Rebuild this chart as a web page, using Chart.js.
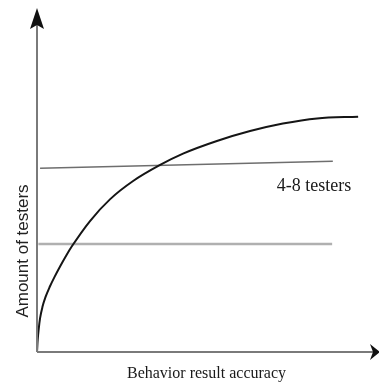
<!DOCTYPE html>
<html>
<head>
<meta charset="utf-8">
<script src="https://cdn.jsdelivr.net/npm/chart.js@4"></script>
<style>
html,body{margin:0;padding:0;background:#fff;}
#wrap{width:379px;height:385px;}
</style>
</head>
<body>
<div id="wrap"><canvas id="c" width="379" height="385"></canvas></div>
<script>
// Values (arbitrary 0-100 units on both axes)
const curveX = [0, 0.2, 0.5, 0.9, 1.6, 2.5, 3.7, 5.1, 6.9, 8.6, 10.2, 15.5, 21.4, 28.1, 36.0, 42.7, 52.6, 62.3, 71.9, 81.9, 93.9];
const curveY = [0, 3.5, 6.7, 9.9, 13.2, 16.1, 19.0, 21.9, 25.3, 28.3, 30.9, 38.3, 44.7, 50.0, 54.7, 58.0, 61.7, 64.6, 66.8, 68.3, 68.8];
const upperX = [0.9, 86.5];
const upperY = [53.7, 55.8];
const lowerX = [0.4, 86.3];
const lowerY = [31.6, 31.6];
const bandLabel = "4-8 testers";
const bandLabelPos = [81.0, 47.1];
const xTitle = "Behavior result accuracy";
const yTitle = "Amount of testers";

const toPts = (xs, ys) => xs.map((x, i) => ({x: x, y: ys[i]}));

const axesPlugin = {
  id: 'axesArrows',
  afterDatasetsDraw(chart) {
    const ctx = chart.ctx;
    const a = chart.chartArea;
    const xs = chart.scales.x, ys = chart.scales.y;
    ctx.save();
    // axis lines
    ctx.strokeStyle = '#7a7a7a';
    ctx.lineWidth = 2;
    ctx.beginPath();
    ctx.moveTo(a.left, a.bottom);
    ctx.lineTo(a.left, a.top + 14);
    ctx.moveTo(a.left, a.bottom);
    ctx.lineTo(a.right - 6, a.bottom);
    ctx.stroke();
    // arrow heads
    ctx.fillStyle = '#111';
    ctx.beginPath();
    ctx.moveTo(a.left, a.top - 2);
    ctx.lineTo(a.left + 7, a.top + 19);
    ctx.lineTo(a.left, a.top + 15);
    ctx.lineTo(a.left - 7, a.top + 19);
    ctx.closePath();
    ctx.fill();
    ctx.beginPath();
    ctx.moveTo(a.right + 1, a.bottom);
    ctx.lineTo(a.right - 9, a.bottom - 8);
    ctx.lineTo(a.right - 6, a.bottom);
    ctx.lineTo(a.right - 9, a.bottom + 8);
    ctx.closePath();
    ctx.fill();
    // texts
    ctx.fillStyle = '#1a1a1a';
    ctx.textAlign = 'center';
    ctx.textBaseline = 'alphabetic';
    ctx.font = '18px "Liberation Serif", serif';
    ctx.fillText(bandLabel, xs.getPixelForValue(bandLabelPos[0]), ys.getPixelForValue(bandLabelPos[1]));
    ctx.font = '16px "Liberation Serif", serif';
    ctx.fillText(xTitle, 206.5, a.bottom + 26);
    ctx.translate(28, 251);
    ctx.rotate(-Math.PI / 2);
    ctx.font = '17px "Liberation Sans", Arial, sans-serif';
    ctx.fillStyle = '#222';
    ctx.fillText(yTitle, 0, 0);
    ctx.restore();
  }
};

new Chart(document.getElementById('c'), {
  type: 'scatter',
  data: {
    datasets: [
      {data: toPts(curveX, curveY), showLine: true, borderColor: '#151515', borderWidth: 2, pointRadius: 0, cubicInterpolationMode: 'monotone', clip: false},
      {data: toPts(upperX, upperY), showLine: true, borderColor: '#6e6e6e', borderWidth: 1.5, pointRadius: 0, clip: false},
      {data: toPts(lowerX, lowerY), showLine: true, borderColor: '#b0b0b0', borderWidth: 2.5, pointRadius: 0, clip: false}
    ]
  },
  options: {
    responsive: false,
    animation: false,
    events: [],
    layout: {padding: {left: 37, right: 0, top: 10, bottom: 33}},
    plugins: {legend: {display: false}, tooltip: {enabled: false}, title: {display: false}},
    scales: {
      x: {type: 'linear', min: 0, max: 100, display: false},
      y: {type: 'linear', min: 0, max: 100, display: false}
    }
  },
  plugins: [axesPlugin]
});
</script>
</body>
</html>
